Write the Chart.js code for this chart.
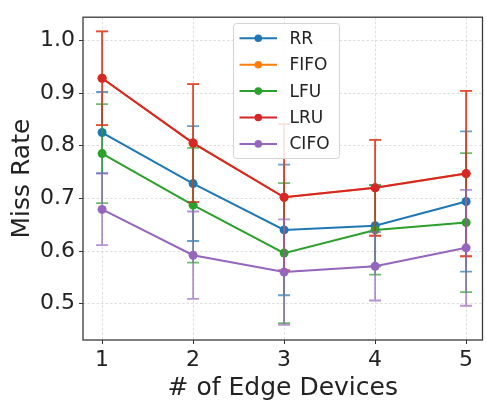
<!DOCTYPE html>
<html lang="en">
<head>
    <meta charset="UTF-8">
    <title>Miss Rate vs Edge Devices</title>
    <script src="https://cdn.jsdelivr.net/npm/chart.js"></script>
    <style>
        body { margin: 0; background: #fff; }
        canvas { display: block; }
    </style>
</head>
<body>
    <canvas id="missChart" width="487" height="401"></canvas>
    <script>
        // Data: mean miss rate and std-dev per policy
        var edgeDevices = [1, 2, 3, 4, 5];
        var yTickValues = [0.5, 0.6, 0.7, 0.8, 0.9, 1.0];
        var seriesNames = ['RR', 'FIFO', 'LFU', 'LRU', 'CIFO'];

        var rrMiss = [0.825, 0.728, 0.640, 0.648, 0.694];
        var rrErr = [0.077, 0.109, 0.124, 0.077, 0.133];
        var fifoMiss = [0.928, 0.805, 0.702, 0.720, 0.747];
        var fifoErr = [0.089, 0.112, 0.139, 0.091, 0.157];
        var lfuMiss = [0.785, 0.687, 0.596, 0.640, 0.654];
        var lfuErr = [0.094, 0.109, 0.133, 0.085, 0.132];
        var lruMiss = [0.928, 0.805, 0.702, 0.720, 0.747];
        var lruErr = [0.089, 0.112, 0.139, 0.091, 0.157];
        var cifoMiss = [0.679, 0.592, 0.560, 0.571, 0.606];
        var cifoErr = [0.068, 0.083, 0.100, 0.065, 0.110];

        var seriesColors = ['31,119,180', '255,127,14', '44,160,44', '214,39,40', '148,103,189'];
        var allMiss = [rrMiss, fifoMiss, lfuMiss, lruMiss, cifoMiss];
        var allErr = [rrErr, fifoErr, lfuErr, lruErr, cifoErr];

        var FONT = 'DejaVu Sans';
        var TEXT = '#222';

        var datasets = seriesNames.map(function (name, i) {
            var col = 'rgb(' + seriesColors[i] + ')';
            return {
                label: name,
                data: edgeDevices.map(function (x, j) { return { x: x, y: allMiss[i][j] }; }),
                errors: allErr[i],
                borderColor: col,
                backgroundColor: col,
                pointBackgroundColor: col,
                pointBorderColor: col,
                pointBorderWidth: 0,
                pointRadius: 4.5,
                borderWidth: 2,
                tension: 0,
                fill: false,
                order: seriesNames.length - 1 - i   // later series on top
            };
        });

        // vertical error bars with caps, drawn just under each series' line
        var errorBars = {
            id: 'errorBars',
            beforeDatasetDraw: function (chart, args) {
                var ds = chart.data.datasets[args.index];
                var yScale = chart.scales.y;
                var ctx = chart.ctx;
                var rgb = seriesColors[args.index];
                ctx.save();
                ctx.strokeStyle = 'rgba(' + rgb + ',0.7)';
                ctx.lineWidth = 1.8;
                args.meta.data.forEach(function (pt, j) {
                    var v = ds.data[j].y, e = ds.errors[j];
                    var yt = yScale.getPixelForValue(v + e);
                    var yb = yScale.getPixelForValue(v - e);
                    ctx.beginPath();
                    ctx.moveTo(pt.x, yt); ctx.lineTo(pt.x, yb);
                    ctx.moveTo(pt.x - 6, yt); ctx.lineTo(pt.x + 6, yt);
                    ctx.moveTo(pt.x - 6, yb); ctx.lineTo(pt.x + 6, yb);
                    ctx.stroke();
                });
                ctx.restore();
            }
        };

        // axes frame and the boxed legend inside the plot
        var frameAndLegend = {
            id: 'frameAndLegend',
            afterDraw: function (chart) {
                var ctx = chart.ctx, a = chart.chartArea;
                ctx.save();
                ctx.strokeStyle = '#3a3a3a';
                ctx.lineWidth = 1.3;
                ctx.strokeRect(a.left, a.top, a.right - a.left, a.bottom - a.top);

                var bx = 233.5, by = 23.5, bw = 106, bh = 135;
                ctx.beginPath();
                ctx.roundRect(bx, by, bw, bh, 3);
                ctx.fillStyle = 'rgba(255,255,255,0.85)';
                ctx.fill();
                ctx.strokeStyle = '#d4d4d4';
                ctx.lineWidth = 1;
                ctx.stroke();

                ctx.font = '17px "' + FONT + '"';
                ctx.textBaseline = 'middle';
                ctx.textAlign = 'left';
                seriesNames.forEach(function (name, i) {
                    var y = 38.3 + i * 26.4;
                    var col = 'rgb(' + seriesColors[i] + ')';
                    ctx.strokeStyle = col;
                    ctx.lineWidth = 2;
                    ctx.beginPath();
                    ctx.moveTo(239.5, y); ctx.lineTo(277, y);
                    ctx.stroke();
                    ctx.fillStyle = col;
                    ctx.beginPath();
                    ctx.arc(258.3, y, 3.8, 0, Math.PI * 2);
                    ctx.fill();
                    ctx.fillStyle = TEXT;
                    ctx.fillText(name, 289.5, y + 1);
                });
                ctx.restore();
            }
        };

        var gridOpts = {
            color: '#d6d6d6',
            lineWidth: 0.8,
            tickColor: '#333',
            tickLength: 4,
            tickWidth: 1,
            tickBorderDash: []
        };

        new Chart(document.getElementById('missChart'), {
            type: 'line',
            data: { datasets: datasets },
            plugins: [errorBars, frameAndLegend],
            options: {
                responsive: false,
                devicePixelRatio: 1,
                animation: false,
                layout: { padding: { top: 15, right: 1, left: 0, bottom: 0 } },
                plugins: { legend: { display: false }, tooltip: { enabled: false } },
                scales: {
                    x: {
                        type: 'linear',
                        min: 0.79,
                        max: 5.18,
                        afterBuildTicks: function (s) { s.ticks = edgeDevices.map(function (v) { return { value: v }; }); },
                        afterFit: function (s) { s.height = 61; },
                        grid: gridOpts,
                        border: { display: false, dash: [2.5, 2] },
                        ticks: { font: { family: FONT, size: 22 }, color: TEXT, padding: 3 },
                        title: {
                            display: true,
                            text: '# of Edge Devices',
                            font: { family: FONT, size: 25, lineHeight: 1 },
                            color: TEXT,
                            padding: { top: 0, bottom: 0 }
                        }
                    },
                    y: {
                        min: 0.431,
                        max: 1.044,
                        afterBuildTicks: function (s) { s.ticks = yTickValues.map(function (v) { return { value: v }; }); },
                        afterFit: function (s) { s.width = 83; },
                        grid: gridOpts,
                        border: { display: false, dash: [2.5, 2] },
                        ticks: {
                            font: { family: FONT, size: 22 },
                            color: TEXT,
                            padding: 4,
                            callback: function (v) { return v.toFixed(1); }
                        },
                        title: {
                            display: true,
                            text: 'Miss Rate',
                            font: { family: FONT, size: 25, lineHeight: 1 },
                            color: TEXT,
                            padding: { top: 10, bottom: 0 }
                        }
                    }
                }
            }
        });
    </script>
</body>
</html>
